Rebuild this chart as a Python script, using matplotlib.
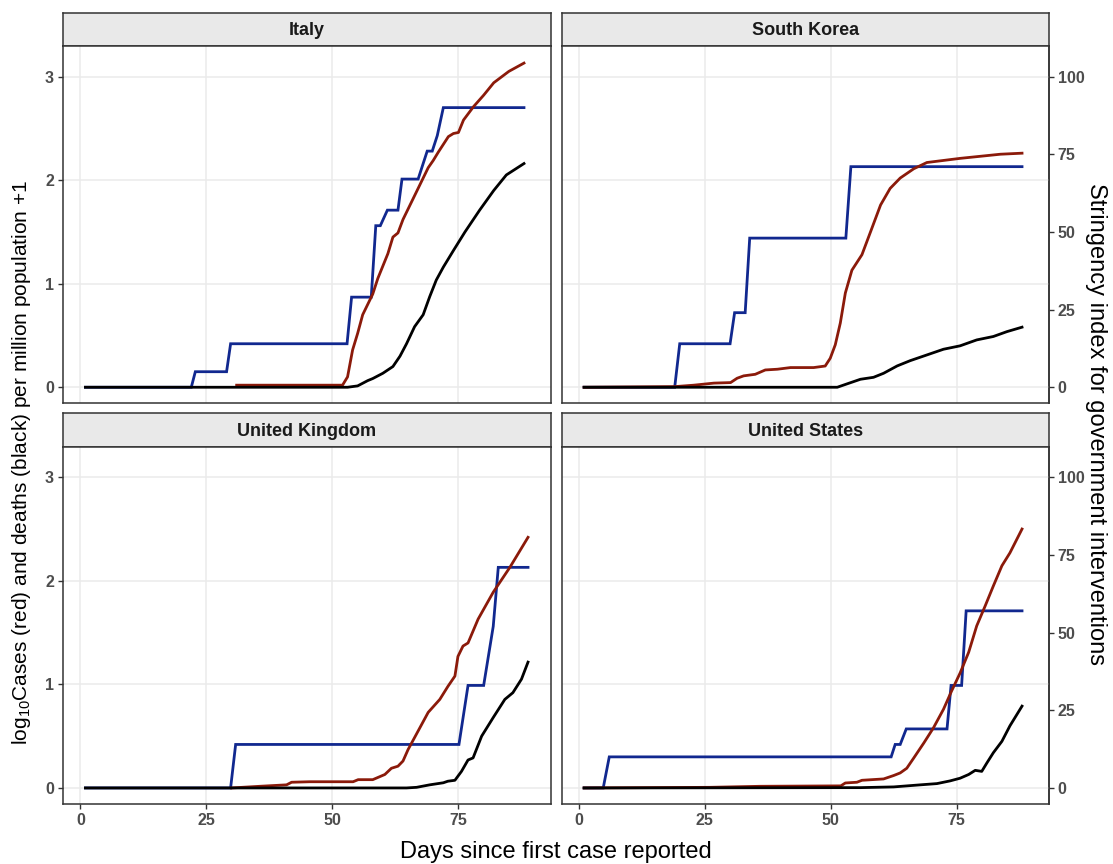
import matplotlib
matplotlib.use("Agg")
import matplotlib.pyplot as plt
import numpy as np

# ---------------- data ----------------
countries = ["Italy", "South Korea", "United Kingdom", "United States"]

italy_case_day = [31, 52, 53, 54, 55, 56, 58, 59, 61, 62, 63, 64, 66, 67, 69, 70, 71, 73, 74, 75, 76, 78, 80, 82, 85, 88]
italy_case_val = [0.02, 0.02, 0.10, 0.36, 0.52, 0.70, 0.90, 1.05, 1.29, 1.45, 1.49, 1.62, 1.82, 1.92, 2.12, 2.19, 2.27, 2.42, 2.45, 2.46, 2.58, 2.71, 2.82, 2.94, 3.05, 3.13]
italy_death_day = [1, 53, 55, 57, 58, 60, 62, 63.4, 64.7, 66.3, 68, 69.3, 70.6, 72, 74, 76.3, 79.2, 82, 84.5, 88]
italy_death_val = [0, 0, 0.013, 0.064, 0.084, 0.135, 0.20, 0.30, 0.42, 0.585, 0.70, 0.875, 1.035, 1.16, 1.32, 1.50, 1.71, 1.90, 2.05, 2.16]
italy_str_day = [1, 22, 22.8, 29, 29.8, 52.9, 53.8, 57.7, 58.6, 59.5, 60.9, 63, 63.8, 67, 68.8, 69.8, 70.8, 72, 88]
italy_str_val = [0, 0, 5, 5, 14, 14, 29, 29, 52, 52, 57, 57, 67, 67, 76, 76, 81, 90, 90]

korea_case_day = [1, 19, 22.8, 26.8, 30.1, 31.4, 32.7, 35, 37, 39.4, 42, 46.6, 48.9, 49.9, 50.9, 51.9, 52.9, 54.2, 56.2, 57.9, 59.9, 61.8, 63.8, 66.5, 69.1, 72.4, 75.7, 79.7, 83.7, 88]
korea_case_val = [0, 0.006, 0.02, 0.04, 0.045, 0.087, 0.11, 0.125, 0.167, 0.174, 0.19, 0.19, 0.205, 0.28, 0.41, 0.62, 0.91, 1.13, 1.28, 1.50, 1.76, 1.92, 2.02, 2.11, 2.17, 2.19, 2.21, 2.23, 2.25, 2.26]
korea_death_day = [1, 51.3, 53.2, 55.9, 58.5, 60.5, 63.2, 65.8, 69.1, 72.4, 75.7, 79, 82.3, 85, 88]
korea_death_val = [0, 0, 0.032, 0.077, 0.096, 0.135, 0.206, 0.257, 0.312, 0.367, 0.40, 0.457, 0.49, 0.537, 0.58]
korea_str_day = [1, 19, 20, 30, 30.9, 33, 33.9, 53, 54, 88]
korea_str_val = [0, 0, 14, 14, 24, 24, 48, 48, 71, 71]

uk_case_day = [30, 35.6, 40.9, 41.9, 45.5, 54.1, 55.1, 58, 60.4, 61.7, 63, 64, 65, 67, 69, 71.3, 72.9, 74.3, 74.9, 75.9, 76.9, 78.9, 81.9, 85.2, 88.8]
uk_case_val = [0, 0.016, 0.03, 0.055, 0.06, 0.06, 0.08, 0.08, 0.13, 0.19, 0.21, 0.26, 0.37, 0.55, 0.73, 0.855, 0.98, 1.08, 1.27, 1.37, 1.40, 1.63, 1.89, 2.13, 2.42]
uk_death_day = [1, 64.7, 66.7, 69.3, 72, 72.9, 74.3, 75.6, 76.9, 77.9, 79.6, 81.9, 84.2, 85.8, 87.5, 88.8]
uk_death_val = [0, 0, 0.006, 0.03, 0.05, 0.065, 0.074, 0.16, 0.27, 0.29, 0.50, 0.68, 0.855, 0.92, 1.05, 1.215]
uk_str_day = [1, 29.8, 30.8, 75.1, 76.9, 80, 81.9, 82.9, 88.8]
uk_str_val = [0, 0, 14, 14, 33, 33, 52, 71, 71]

us_case_day = [1, 26, 36, 52, 52.9, 55.2, 56.2, 60.5, 62.5, 63.8, 65.1, 66.5, 68.5, 70.4, 72.4, 74, 75.7, 77.4, 79, 80.7, 82.3, 84, 85.6, 88]
us_case_val = [0, 0.006, 0.016, 0.02, 0.048, 0.055, 0.074, 0.087, 0.12, 0.145, 0.19, 0.29, 0.435, 0.58, 0.76, 0.935, 1.11, 1.31, 1.565, 1.76, 1.95, 2.145, 2.27, 2.50]
us_death_day = [1, 55.9, 62.5, 67.8, 71.1, 73.7, 75.7, 77.4, 78.7, 80, 81, 82.3, 84, 85.6, 88]
us_death_val = [0, 0.003, 0.01, 0.03, 0.042, 0.068, 0.094, 0.13, 0.17, 0.16, 0.24, 0.34, 0.45, 0.60, 0.79]
us_str_day = [1, 4.8, 6, 62, 62.8, 63.8, 65, 73.1, 73.9, 76, 76.9, 88]
us_str_val = [0, 0, 10, 10, 14, 14, 19, 19, 33, 33, 57, 57]

x_ticks = [0, 25, 50, 75]
y_ticks = [0, 1, 2, 3]
str_ticks = [0, 25, 50, 75, 100]
STR_SCALE = 0.03  # stringency 100 -> 3 on the log axis

series = {
    "Italy": (italy_case_day, italy_case_val, italy_death_day, italy_death_val, italy_str_day, italy_str_val),
    "South Korea": (korea_case_day, korea_case_val, korea_death_day, korea_death_val, korea_str_day, korea_str_val),
    "United Kingdom": (uk_case_day, uk_case_val, uk_death_day, uk_death_val, uk_str_day, uk_str_val),
    "United States": (us_case_day, us_case_val, us_death_day, us_death_val, us_str_day, us_str_val),
}

# ---------------- styling ----------------
plt.rcParams['font.family'] = ['Liberation Sans', 'DejaVu Sans']
plt.rcParams['mathtext.fontset'] = 'custom'
plt.rcParams['mathtext.rm'] = 'Liberation Sans'
plt.rcParams['mathtext.it'] = 'Liberation Sans:italic'

RED = '#8B1A0A'
BLUE = '#11288F'
BORDER = '#333333'
GRID = '#EBEBEB'
TICKTXT = '#4D4D4D'

W, H = 1113, 864
fig = plt.figure(figsize=(W / 100, H / 100), dpi=100)
fig.patch.set_facecolor('white')


def frac(l, t, r, b):
    return [l / W, 1 - b / H, (r - l) / W, (b - t) / H]


layout = {
    "Italy": (63, 12.7, 46, 550.7, 403.3, True, False, False),
    "South Korea": (561.7, 12.7, 46, 1048.7, 403.3, False, True, False),
    "United Kingdom": (63, 413.3, 446.7, 550.7, 804, True, False, True),
    "United States": (561.7, 413.3, 446.7, 1048.7, 804, False, True, True),
}

for name in countries:
    l, st, t, r, b, left_ax, right_ax, bottom_ax = layout[name]
    cd, cv, dd, dv, sd, sv = series[name]

    # strip
    sax = fig.add_axes(frac(l, st, r, t))
    sax.set_facecolor('#E9E9E9')
    sax.set_xticks([]); sax.set_yticks([])
    for sp in sax.spines.values():
        sp.set_color(BORDER); sp.set_linewidth(1.1)
    sax.text(0.5, 0.47, name, transform=sax.transAxes, ha='center', va='center',
             fontsize=13, fontweight='bold', color='#1A1A1A')

    ax = fig.add_axes(frac(l, t, r, b))
    ax.set_xlim(-3.45, 93.3)
    ax.set_ylim(-0.155, 3.295)
    ax.set_xticks(x_ticks)
    ax.set_yticks(y_ticks)
    ax.grid(True, color=GRID, linewidth=1.1)
    ax.set_axisbelow(True)
    for sp in ax.spines.values():
        sp.set_color(BORDER); sp.set_linewidth(1.1)

    ax.plot(sd, np.array(sv) * STR_SCALE, color=BLUE, lw=2.0, solid_joinstyle='miter', zorder=3)
    ax.plot(cd, cv, color=RED, lw=2.0, zorder=4)
    ax.plot(dd, dv, color='black', lw=2.0, zorder=5)

    ax.tick_params(axis='both', length=3.5, width=1.0, color=BORDER, labelcolor=TICKTXT,
                   labelsize=11.5, pad=3)
    for lab in ax.get_xticklabels() + ax.get_yticklabels():
        lab.set_fontweight('bold')
    if not left_ax:
        ax.tick_params(axis='y', left=False, labelleft=False)
    if not bottom_ax:
        ax.tick_params(axis='x', bottom=False, labelbottom=False)

    if right_ax:
        sec = ax.secondary_yaxis('right', functions=(lambda y: y / STR_SCALE, lambda s: s * STR_SCALE))
        sec.set_yticks(str_ticks)
        sec.spines['right'].set_color(BORDER)
        sec.spines['right'].set_linewidth(1.1)
        sec.tick_params(axis='y', length=3.5, width=1.0, color=BORDER, labelcolor=TICKTXT,
                        labelsize=11.5, pad=3)
        for lab in sec.get_yticklabels():
            lab.set_fontweight('bold')

fig.text(556, H - 852, "Days since first case reported", transform=None,
         ha='center', va='center', fontsize=17, color='black')
fig.text(22, H - 462, r"log$_{10}$Cases (red) and deaths (black) per million population +1",
         transform=None, rotation=90, ha='center', va='center', fontsize=15, color='black')
fig.text(1096, H - 424, "Stringency index for government interventions", transform=None,
         rotation=-90, ha='center', va='center', fontsize=17, color='black')

fig.savefig("out.png", dpi=100, facecolor='white')
